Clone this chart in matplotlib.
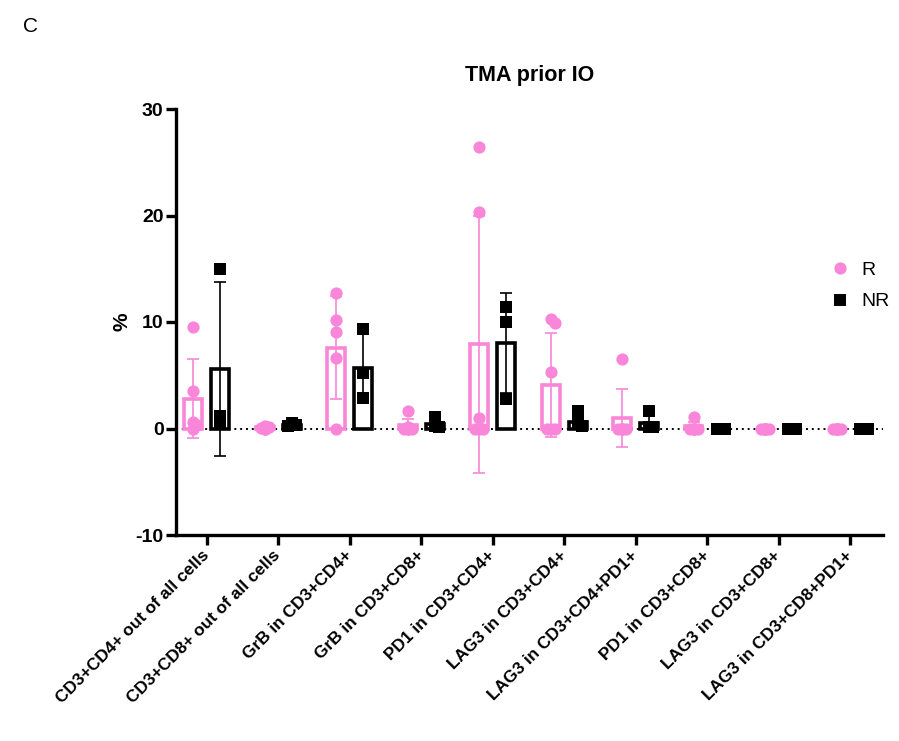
import numpy as np
import matplotlib
matplotlib.use("Agg")
import matplotlib.pyplot as plt
from matplotlib.lines import Line2D

plt.rcParams['font.family'] = ['Liberation Sans', 'DejaVu Sans']
plt.rcParams['axes.unicode_minus'] = False

categories = ["CD3+CD4+ out of all cells", "CD3+CD8+ out of all cells",
              "GrB in CD3+CD4+", "GrB in CD3+CD8+", "PD1 in CD3+CD4+",
              "LAG3 in CD3+CD4+", "LAG3 in CD3+CD4+PD1+", "PD1 in CD3+CD8+",
              "LAG3 in CD3+CD8+", "LAG3 in CD3+CD8+PD1+"]

r_points = [
    [9.5, 3.5, 0.6, 0.3, 0.0],
    [0.2, 0.1, 0.05, 0.0, 0.0, 0.0],
    [12.7, 10.2, 9.1, 6.6, 0.0],
    [1.6, 0.1, 0.0, 0.0, 0.0, 0.0],
    [26.4, 20.3, 1.0, 0.0, 0.0, 0.0],
    [10.3, 9.9, 5.3, 0.0, 0.0, 0.0],
    [6.5, 0.0, 0.0, 0.0, 0.0, 0.0],
    [1.05, 0.0, 0.0, 0.0, 0.0, 0.0],
    [0.0, 0.0, 0.0, 0.0, 0.0, 0.0],
    [0.0, 0.0, 0.0, 0.0, 0.0, 0.0],
]
nr_points = [
    [15.0, 1.2, 0.6],
    [0.5, 0.3, 0.2],
    [9.3, 5.2, 2.9],
    [1.1, 0.2, 0.1],
    [11.4, 10.0, 2.8],
    [1.6, 0.5, 0.2],
    [1.6, 0.1, 0.1],
    [0.0, 0.0, 0.0],
    [0.0, 0.0, 0.0],
    [0.0, 0.0, 0.0],
]
r_mean = [2.8, 0.1, 7.6, 0.3, 7.9, 4.1, 1.0, 0.2, 0.0, 0.0]
r_sd = [3.7, 0.1, 4.8, 0.6, 12.1, 4.9, 2.7, 0.4, 0.0, 0.0]
nr_mean = [5.6, 0.35, 5.7, 0.45, 8.0, 0.6, 0.5, 0.0, 0.0, 0.0]
nr_sd = [8.2, 0.15, 3.3, 0.5, 4.7, 0.6, 0.8, 0.0, 0.0, 0.0]

PINK = '#F986D8'
BLACK = '#000000'

W, H = 899, 741
fig = plt.figure(figsize=(W / 100, H / 100), dpi=100)
ax = fig.add_axes([176 / W, 1 - 535 / H, (883 - 176) / W, (535 - 109) / H])

x = np.arange(len(categories))
off = 0.19
bw = 0.25
ax.set_xlim(-0.43, len(categories) - 1 + 0.46)
ax.set_ylim(-10, 30)

px_x = (883 - 176) / (ax.get_xlim()[1] - ax.get_xlim()[0])
px_y = (535 - 109) / 40.0


def swarm(vals, center):
    placed = []
    xs = []
    for v in vals:
        cands = [0, 2, -2, 4, -4, 6, -6]
        chosen = 0
        for c in cands:
            ok = True
            for (px, pv) in placed:
                if abs(px - c) < 3 and abs(pv - v) * px_y < 6:
                    ok = False
                    break
            if ok:
                chosen = c
                break
        placed.append((chosen, v))
        xs.append(center + chosen / px_x)
    return xs


for i in range(len(categories)):
    for sgn, mean, sd, pts, col, mk in [(-1, r_mean, r_sd, r_points, PINK, 'o'),
                                         (1, nr_mean, nr_sd, nr_points, BLACK, 's')]:
        cx = x[i] + sgn * off
        ax.bar(cx, mean[i], width=bw, facecolor='none', edgecolor=col,
               linewidth=2.6, zorder=3)
        if sd[i] > 0:
            ax.errorbar(cx, mean[i], yerr=sd[i], fmt='none', ecolor=col,
                        elinewidth=1.2, capsize=4.5, capthick=1.2, zorder=2)
        xs = swarm(pts[i], cx)
        ax.plot(xs, pts[i], linestyle='none', marker=mk, color=col,
                markersize=8.8 if mk == 'o' else 8.4, markeredgewidth=0, zorder=4)

ax.axhline(0, color='black', linestyle=(0, (1, 2)), linewidth=1.4, zorder=1)

for s in ['top', 'right']:
    ax.spines[s].set_visible(False)
for s in ['left', 'bottom']:
    ax.spines[s].set_linewidth(2.4)

ax.set_yticks([-10, 0, 10, 20, 30])
ax.set_xticks(x)
ax.set_xticklabels(categories, rotation=45, ha='right', va='center',
                   rotation_mode='anchor', fontweight='bold', fontsize=12.4)
ax.tick_params(axis='both', width=2.4, length=7)
ax.tick_params(axis='y', labelsize=14, pad=2)
ax.tick_params(axis='x', pad=6)
for t in ax.get_yticklabels():
    t.set_fontweight('bold')

ax.set_ylabel('%', fontweight='bold', fontsize=15, labelpad=3)
ax.set_title('TMA prior IO', fontweight='bold', fontsize=15.5, pad=20)

fig.text(30 / W, 1 - 27 / H, 'C', fontsize=15, ha='center', va='center')

handles = [Line2D([], [], linestyle='none', marker='o', color=PINK, markersize=8.8,
                  markeredgewidth=0, label='R'),
           Line2D([], [], linestyle='none', marker='s', color=BLACK, markersize=8.4,
                  markeredgewidth=0, label='NR')]
fig.legend(handles=handles, loc='center left', bbox_to_anchor=(811 / W, 1 - 286 / H),
           frameon=False, fontsize=14, handletextpad=0.5, labelspacing=0.7,
           handlelength=1.2)

fig.savefig('out.png', dpi=100)
